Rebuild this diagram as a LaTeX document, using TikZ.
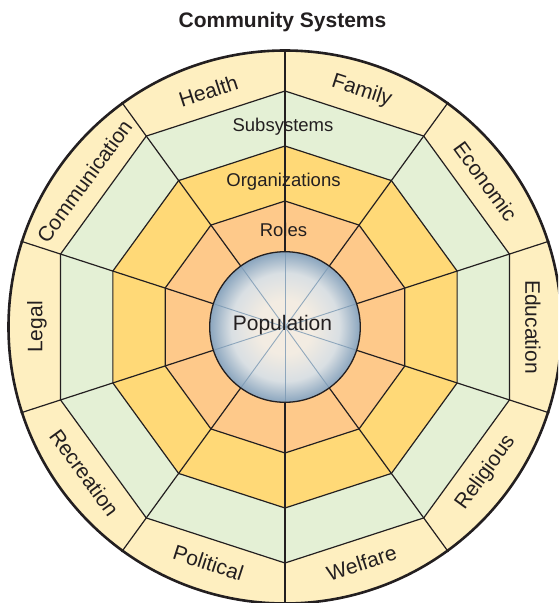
\documentclass[tikz,border=0pt]{standalone}
\usepackage{fontspec}
\setmainfont{Liberation Sans}
\definecolor{cream}{HTML}{FEEFC0}
\definecolor{sgreen}{HTML}{E4F0D5}
\definecolor{syellow}{HTML}{FFD977}
\definecolor{sorange}{HTML}{FEC98A}
\definecolor{popc}{HTML}{F3ECE2}
\definecolor{popm}{HTML}{D9DFE3}
\definecolor{pope}{HTML}{8AA5BE}
\definecolor{popline}{HTML}{7A98B3}
\definecolor{ink}{HTML}{231F20}
\pgfdeclareradialshading{popshade}{\pgfpoint{0bp}{0bp}}{color(0bp)=(popc); color(9bp)=(popc); color(18bp)=(popm); color(25bp)=(pope); color(50bp)=(pope)}
\tikzset{
  edge/.style={draw=ink, line width=1.2pt, line join=miter},
  outerlbl/.style={font=\fontsize{21}{25}\selectfont, text=ink, inner sep=0pt},
  innerlbl/.style={font=\fontsize{18.5}{22}\selectfont, text=ink, inner sep=0pt},
}
\begin{document}
\begin{tikzpicture}[x=1pt,y=1pt]
\useasboundingbox (-285,327) rectangle (273,-276);
\clip (-285,327) rectangle (273,-276);
% outer disc
\fill[cream] (0,0) circle (277);
% decagons
\fill[sgreen, edge] (90:236) \foreach \a in {126,162,...,414} { -- (\a:236)} -- cycle;
\fill[syellow, edge] (90:181) \foreach \a in {126,162,...,414} { -- (\a:181)} -- cycle;
\fill[sorange, edge] (90:126) \foreach \a in {126,162,...,414} { -- (\a:126)} -- cycle;
% radial lines
\foreach \a in {90,126,...,414} { \draw[ink, line width=1.2pt] (\a:75) -- (\a:278); }
% outer circle
\draw[ink, line width=2.6pt] (0,0) circle (276.5);
% population
\shade[shading=popshade] (0,0) circle (75.3);
\foreach \a in {90,126,...,414} { \draw[popline, line width=0.9pt, opacity=0.8] (0,0) -- (\a:75); }
\draw[ink, line width=1.3pt] (0,0) circle (75.3);
% labels
\node[font=\fontsize{21}{25}\selectfont\bfseries, text=ink, inner sep=0pt] (title) at (-2.5,305) {Community Systems};
\node[innerlbl] (subs) at (-2,200) {Subsystems};
\node[innerlbl] (orgs) at (-1.5,145.5) {Organizations};
\node[innerlbl] (roles) at (-1.5,97) {Roles};
\node[outerlbl] (pop) at (-2.5,2) {Population};
\node[outerlbl, rotate=-18] (family) at (72:248) {Family};
\node[outerlbl, rotate=18] (health) at (108:248) {Health};
\node[outerlbl, rotate=54] (comm) at (144:248) {Communication};
\node[outerlbl, rotate=90] (legal) at (180:248) {Legal};
\node[outerlbl, rotate=-54] (recr) at (216:248) {Recreation};
\node[outerlbl, rotate=-18] (poli) at (252:248) {Political};
\node[outerlbl, rotate=18] (welf) at (288:248) {Welfare};
\node[outerlbl, rotate=54] (reli) at (324:248) {Religious};
\node[outerlbl, rotate=-90] (educ) at (0:248) {Education};
\node[outerlbl, rotate=-54] (econ) at (36:248) {Economic};
\end{tikzpicture}
\end{document}
